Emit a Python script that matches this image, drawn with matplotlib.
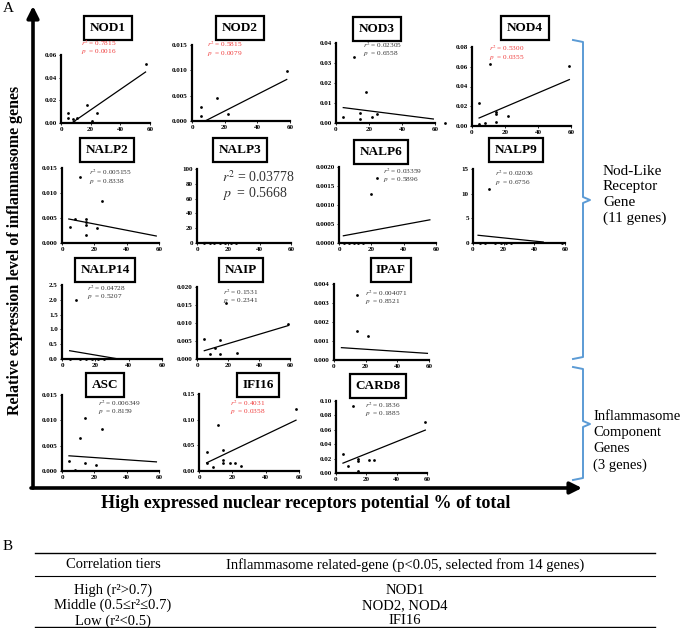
import matplotlib
matplotlib.use('Agg')
import matplotlib.pyplot as plt

plt.rcParams['font.family'] = ['Liberation Serif', 'DejaVu Serif']
plt.rcParams['mathtext.fontset'] = 'stix'

W, H = 685, 628

# ---------------- data ----------------
NOD1_x = [4.9, 4.9, 7.9, 8.5, 11, 17.8, 20.7, 24, 57]
NOD1_y = [0.0092, 0.0041, 0.0038, 0.0012, 0.0047, 0.0157, 0.0018, 0.0089, 0.052]
NOD1_fit = ([7.2, 57], [0.0, 0.045])
NOD1_ticks = ["0.00", "0.02", "0.04", "0.06"]
NOD1_stats = ("0.7815", "0.0016")

NOD2_x = [5.3, 5.3, 15, 22, 58]
NOD2_y = [0.0028, 0.001, 0.0045, 0.0013, 0.0099]
NOD2_fit = ([8, 58], [0.0, 0.0082])
NOD2_ticks = ["0.000", "0.005", "0.010", "0.015"]
NOD2_stats = ("0.5815", "0.0079")

NOD3_x = [4.4, 11, 14.5, 14.5, 17.9, 21.6, 25, 66]
NOD3_y = [0.0031, 0.033, 0.0048, 0.0018, 0.0153, 0.0031, 0.0043, 0.0]
NOD3_fit = ([4.4, 59], [0.0077, 0.002])
NOD3_ticks = ["0.00", "0.01", "0.02", "0.03", "0.04"]
NOD3_stats = ("0.02305", "0.6558")

NOD4_x = [4.3, 4.3, 7.8, 10.8, 14.4, 14.4, 14.4, 21.6, 59]
NOD4_y = [0.0237, 0.0024, 0.003, 0.063, 0.014, 0.012, 0.004, 0.0098, 0.0608]
NOD4_fit = ([4.3, 59], [0.0081, 0.047])
NOD4_ticks = ["0.00", "0.02", "0.04", "0.06", "0.08"]
NOD4_stats = ("0.5300", "0.0355")

NALP2_x = [4.7, 8.1, 11.2, 14.7, 14.7, 14.7, 14.7, 21.5, 24.6]
NALP2_y = [0.0033, 0.0048, 0.0133, 0.0048, 0.0043, 0.0036, 0.0016, 0.003, 0.0084]
NALP2_fit = ([4.2, 58.3], [0.0048, 0.0014])
NALP2_ticks = ["0.000", "0.005", "0.010", "0.015"]
NALP2_stats = ("0.005155", "0.8338")

NALP3_x = [4.5, 8, 11, 14.5, 18, 21.5, 25]
NALP3_y = [0.3, 0.2, 0.2, 0.3, 0.2, 0.2, 0.2]
NALP3_fit = ([4.5, 58], [0.6, 0.2])
NALP3_ticks = ["0", "20", "40", "60", "80", "100"]
NALP3_stats = ("0.03778", "0.5668")

NALP6_x = [19.8, 23.3, 3, 6, 9, 12, 15]
NALP6_y = [0.00128, 0.00171, 0.00001, 0.00001, 0.00001, 0.00001, 0.00001]
NALP6_fit = ([2.7, 56.2], [0.00019, 0.00061])
NALP6_ticks = ["0.0000", "0.0005", "0.0010", "0.0015", "0.0020"]
NALP6_stats = ("0.03359", "0.5896")

NALP9_x = [10.5, 4.5, 8, 14.5, 18, 21.5, 25, 58]
NALP9_y = [11.0, 0.1, 0.1, 0.1, 0.1, 0.1, 0.1, 0.1]
NALP9_fit = ([3.3, 45.8], [1.57, 0.2])
NALP9_ticks = ["0", "5", "10", "15"]
NALP9_stats = ("0.02036", "0.6756")

NALP14_x = [8.6, 4.5, 11, 14.5, 18, 21.5, 25]
NALP14_y = [2.0, 0.01, 0.01, 0.01, 0.01, 0.01, 0.01]
NALP14_fit = ([4.6, 34], [0.28, 0.0])
NALP14_ticks = ["0.0", "0.5", "1.0", "1.5", "2.0", "2.5"]
NALP14_stats = ("0.04728", "0.5207")

NAIP_x = [4.7, 8.6, 15, 15, 18.8, 25.7, 59, 11.5]
NAIP_y = [0.0056, 0.0014, 0.0053, 0.0013, 0.0155, 0.0016, 0.0098, 0.003]
NAIP_fit = ([4.7, 59], [0.0023, 0.0093])
NAIP_ticks = ["0.000", "0.005", "0.010", "0.015", "0.020"]
NAIP_stats = ("0.1531", "0.2341")

IPAF_x = [14.5, 14.5, 21.5]
IPAF_y = [0.00342, 0.00153, 0.00126]
IPAF_fit = ([4.7, 59], [0.00065, 0.00035])
IPAF_ticks = ["0.000", "0.001", "0.002", "0.003", "0.004"]
IPAF_stats = ("0.004071", "0.8521")

ASC_x = [4.3, 7.8, 11, 14.5, 14.5, 21.3, 24.7]
ASC_y = [0.002, 0.0002, 0.0065, 0.0105, 0.0015, 0.0012, 0.0082]
ASC_fit = ([4.3, 58.4], [0.003, 0.0018])
ASC_ticks = ["0.000", "0.005", "0.010", "0.015"]
ASC_stats = ("0.006349", "0.8159")

IFI16_x = [4.6, 4.6, 8.2, 11.6, 14.6, 14.6, 14.6, 18.6, 21.6, 25, 58.2]
IFI16_y = [0.0376, 0.0162, 0.0084, 0.0896, 0.041, 0.0214, 0.015, 0.015, 0.015, 0.0103, 0.121]
IFI16_fit = ([4.6, 58.2], [0.016, 0.099])
IFI16_ticks = ["0.00", "0.05", "0.10", "0.15"]
IFI16_stats = ("0.4031", "0.0358")

CARD8_x = [4.6, 7.9, 11.2, 14.5, 14.5, 14.5, 21.5, 25, 58.9]
CARD8_y = [0.0265, 0.0091, 0.093, 0.019, 0.017, 0.0022, 0.0174, 0.0174, 0.071]
CARD8_fit = ([4.6, 58.9], [0.0137, 0.0596])
CARD8_ticks = ["0.00", "0.02", "0.04", "0.06", "0.08", "0.10"]
CARD8_stats = ("0.1836", "0.1885")

x_ticks = ["0", "20", "40", "60"]
significant = ["NOD1", "NOD2", "NOD4", "IFI16"]

table_header = ["Correlation tiers", "Inflammasome related-gene (p<0.05, selected from 14 genes)"]
table_tiers = ["High (r²>0.7)", "Middle (0.5≤r²≤0.7)", "Low (r²<0.5)"]
table_genes = ["NOD1", "NOD2, NOD4", "IFI16"]

DATA = {
    "NOD1": (NOD1_x, NOD1_y, NOD1_fit, NOD1_ticks, NOD1_stats),
    "NOD2": (NOD2_x, NOD2_y, NOD2_fit, NOD2_ticks, NOD2_stats),
    "NOD3": (NOD3_x, NOD3_y, NOD3_fit, NOD3_ticks, NOD3_stats),
    "NOD4": (NOD4_x, NOD4_y, NOD4_fit, NOD4_ticks, NOD4_stats),
    "NALP2": (NALP2_x, NALP2_y, NALP2_fit, NALP2_ticks, NALP2_stats),
    "NALP3": (NALP3_x, NALP3_y, NALP3_fit, NALP3_ticks, NALP3_stats),
    "NALP6": (NALP6_x, NALP6_y, NALP6_fit, NALP6_ticks, NALP6_stats),
    "NALP9": (NALP9_x, NALP9_y, NALP9_fit, NALP9_ticks, NALP9_stats),
    "NALP14": (NALP14_x, NALP14_y, NALP14_fit, NALP14_ticks, NALP14_stats),
    "NAIP": (NAIP_x, NAIP_y, NAIP_fit, NAIP_ticks, NAIP_stats),
    "IPAF": (IPAF_x, IPAF_y, IPAF_fit, IPAF_ticks, IPAF_stats),
    "ASC": (ASC_x, ASC_y, ASC_fit, ASC_ticks, ASC_stats),
    "IFI16": (IFI16_x, IFI16_y, IFI16_fit, IFI16_ticks, IFI16_stats),
    "CARD8": (CARD8_x, CARD8_y, CARD8_fit, CARD8_ticks, CARD8_stats),
}

# ---------------- layout (pixels) ----------------
# axes rect: left, top, right, bottom ; title box centre ; stats text origin
LAYOUT = {
    "NOD1":  ((61, 55, 150, 123), (108, 28), (81, 43)),
    "NOD2":  ((192, 45, 290, 121), (240, 28), (207, 44)),
    "NOD3":  ((336, 43, 435, 123), (377, 29), (363, 45)),
    "NOD4":  ((472, 47, 571, 126), (525, 28), (489, 48)),
    "NALP2": ((62, 168, 159, 243), (107, 150), (89, 172)),
    "NALP3": ((197, 169, 291, 243), (240, 150), (222, 177)),
    "NALP6": ((339, 167, 436, 243), (381, 152), (383, 171)),
    "NALP9": ((473, 169, 565, 243), (516, 150), (495, 173)),
    "NALP14": ((62, 285, 162, 359), (105, 270), (87, 288)),
    "NAIP":  ((197, 287, 290, 359), (241, 270), (223, 292)),
    "IPAF":  ((334, 284, 429, 360), (391, 270), (365, 293)),
    "ASC":   ((62, 395, 159, 471), (105, 385), (98, 403)),
    "IFI16": ((199, 394, 299, 471), (258, 385), (230, 403)),
    "CARD8": ((336, 401, 427, 473), (378, 386), (365, 405)),
}

fig = plt.figure(figsize=(W / 100, H / 100), dpi=100)

# overlay axes in pixel coordinates for decorations
ov = fig.add_axes([0, 0, 1, 1])
ov.set_xlim(0, W)
ov.set_ylim(H, 0)
ov.axis('off')
ov.patch.set_alpha(0)


def fx(x):
    return x / W


def fy(y):
    return 1 - y / H


for name, (xs, ys, fit, ticks, stats) in DATA.items():
    (l, t, r, b), (tcx, tcy), (sx, sy) = LAYOUT[name]
    ax = fig.add_axes([fx(l), fy(b), (r - l) / W, (b - t) / H])
    ax.patch.set_alpha(0)
    yt = [float(v) for v in ticks]
    ax.set_xlim(0, 60)
    ax.set_ylim(0, yt[-1])
    ax.scatter(xs, ys, s=4, color='black', zorder=3, clip_on=False, linewidths=0)
    ax.plot(fit[0], fit[1], color='black', lw=0.9, clip_on=False)
    ax.set_yticks(yt)
    ax.set_yticklabels(ticks)
    ax.set_xticks([float(v) for v in x_ticks])
    ax.set_xticklabels(x_ticks)
    for s in ('top', 'right'):
        ax.spines[s].set_visible(False)
    for s in ('left', 'bottom'):
        ax.spines[s].set_linewidth(1.6)
    ax.tick_params(length=1.5, width=0.6, pad=1.5, labelsize=5)
    for lab in ax.get_xticklabels() + ax.get_yticklabels():
        lab.set_fontweight('bold')
    # title box
    fig.text(fx(tcx), fy(tcy), name, ha='center', va='center', fontsize=9.5,
             fontweight='bold',
             bbox=dict(boxstyle='square,pad=0.42', fc='white', ec='black', lw=1.6))
    col = '#f03c3c' if name in significant else '#333333'
    if name == "NALP3":
        fs, dy = 10, 16
    else:
        fs, dy = 5.2, 9
    fig.text(fx(sx), fy(sy), r"$r^2$ = " + stats[0], fontsize=fs, color=col, va='center')
    fig.text(fx(sx), fy(sy + dy), r"$p$  = " + stats[1], fontsize=fs, color=col, va='center')

# big arrows
ov.annotate('', xy=(33, 6), xytext=(33, 488),
            arrowprops=dict(arrowstyle='-|>,head_length=0.7,head_width=0.35',
                            lw=2.6, color='black', shrinkA=0, shrinkB=0))
ov.annotate('', xy=(582, 488), xytext=(31, 488),
            arrowprops=dict(arrowstyle='-|>,head_length=0.7,head_width=0.35',
                            lw=2.6, color='black', shrinkA=0, shrinkB=0))

ov.text(15, 250, "Relative expression level of inflammasome genes", rotation=90,
        ha='center', va='center', fontsize=11.5, fontweight='bold')
ov.text(306, 503, "High expressed nuclear receptors potential % of total",
        ha='center', va='center', fontsize=13, fontweight='bold')
ov.text(3, 9, "A", fontsize=11, ha='left', va='center')
ov.text(3, 547, "B", fontsize=11, ha='left', va='center')

# blue brackets
bc = '#5b9bd5'
ov.plot([573, 583, 583, 590, 583, 583, 573], [40, 42, 197, 200, 203, 357, 359], color=bc, lw=1.4)
ov.plot([573, 583, 583, 590, 583, 583, 573], [367, 369, 421, 424, 427, 478, 480], color=bc, lw=1.4)
ov.text(603, 195, "Nod-Like\nReceptor\nGene\n(11 genes)", fontsize=11, ha='left', va='center',
        linespacing=1.25)
ov.text(593, 441, "Inflammasome\nComponent\nGenes\n(3 genes)", fontsize=10.5, ha='left', va='center',
        linespacing=1.3)

# table B
for yy, lw in ((553, 1.0), (576, 0.8), (627, 1.0)):
    ov.plot([35, 655], [yy, yy], color='black', lw=lw)
ov.text(113, 565, table_header[0], ha='center', va='center', fontsize=10.5)
ov.text(405, 565, table_header[1], ha='center', va='center', fontsize=10.5)
for i, (tier, g) in enumerate(zip(table_tiers, table_genes)):
    yy = 590 + i * 15.5
    ov.text(113, yy, tier, ha='center', va='center', fontsize=10.5)
    ov.text(405, yy, g, ha='center', va='center', fontsize=10.5)

fig.savefig('out.png', dpi=100)
